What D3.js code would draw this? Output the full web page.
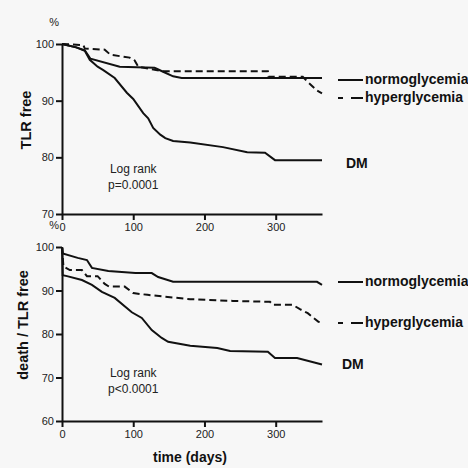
<!DOCTYPE html>
<html>
<head>
<meta charset="utf-8">
<script src="https://cdn.jsdelivr.net/npm/d3@7"></script>
<style>
  body { margin: 0; background: #f7f7f7; }
  svg { display: block; font-family: "Liberation Sans", Arial, sans-serif; }
</style>
</head>
<body>
<div id="chart"></div>
<script>
// Top panel: TLR free (days, %)
const tlrNormoDays = [0, 20, 32, 40, 81, 105, 130, 142, 156, 168, 365];
const tlrNormoPct  = [100, 99.4, 98.9, 97.4, 96.0, 95.9, 95.8, 95.1, 94.3, 94.0, 94.0];
const tlrHyperDays = [0, 30, 32, 60, 68, 95, 102, 107, 140, 289, 290, 338, 345, 358, 365];
const tlrHyperPct  = [100, 99.8, 99.2, 99.0, 98.1, 97.6, 97.1, 96.0, 95.2, 95.2, 94.2, 94.2, 93.3, 91.8, 91.3];
const tlrDmDays = [0, 20, 32, 39, 50, 58, 74, 91, 100, 114, 121, 128, 138, 145, 156, 180, 226, 260, 285, 299, 365];
const tlrDmPct  = [100, 99.4, 98.8, 97.2, 96.0, 95.4, 94.0, 91.4, 90.3, 87.8, 86.9, 85.2, 84.0, 83.4, 82.9, 82.6, 81.8, 80.9, 80.8, 79.5, 79.5];

// Bottom panel: death / TLR free (days, %)
const dthNormoDays = [0, 1, 22, 35, 42, 65, 103, 126, 135, 156, 358, 365];
const dthNormoPct  = [100, 98.5, 97.5, 97.0, 95.2, 94.5, 94.0, 94.0, 93.1, 92.0, 92.0, 91.3];
const dthHyperDays = [0, 2, 11, 28, 35, 50, 60, 66, 88, 100, 120, 180, 240, 292, 296, 324, 334, 345, 360, 365];
const dthHyperPct  = [100, 95.5, 94.7, 94.7, 93.3, 93.3, 91.5, 90.9, 90.9, 89.4, 89.0, 88.0, 87.6, 87.4, 86.7, 86.7, 85.7, 84.8, 82.8, 82.6];
const dthDmDays = [0, 1, 7, 28, 42, 56, 74, 98, 112, 126, 140, 149, 180, 218, 236, 289, 299, 330, 365];
const dthDmPct  = [100, 93.5, 93.3, 92.4, 91.3, 89.7, 88.3, 85.0, 83.7, 80.9, 79.1, 78.2, 77.3, 76.8, 76.1, 75.9, 74.5, 74.5, 73.0];

const xTicks = [0, 100, 200, 300];
const tlrYTicks = [70, 80, 90, 100];
const dthYTicks = [60, 70, 80, 90, 100];
const groupNames = ["normoglycemia", "hyperglycemia", "DM"];

const width = 468, height = 468;
const ink = "#111";

const svg = d3.select("#chart").append("svg")
    .attr("width", width)
    .attr("height", height);

svg.append("rect").attr("width", width).attr("height", height).attr("fill", "#f7f7f7");

const x = d3.scaleLinear().domain([0, 365]).range([62, 322]);

function zip(days, pct) {
    return days.map((d, i) => ({ t: d, v: pct[i] }));
}

function panel(cfg) {
    const y = d3.scaleLinear().domain(cfg.yDomain).range(cfg.yRange);
    const g = svg.append("g");

    // axes
    const xa = g.append("g")
        .attr("transform", `translate(0,${cfg.yRange[0]})`)
        .call(d3.axisBottom(x).tickValues(xTicks).tickSize(6).tickSizeOuter(0).tickPadding(3));
    const ya = g.append("g")
        .attr("transform", `translate(${x(0)},0)`)
        .call(d3.axisLeft(y).tickValues(cfg.yTicks).tickSize(6).tickSizeOuter(0).tickPadding(2));
    [xa, ya].forEach(a => {
        a.selectAll("path, line").attr("stroke", ink).attr("stroke-width", 2);
        a.selectAll("text").attr("fill", "#222").attr("font-size", 11).attr("font-family", "Liberation Sans, Arial");
    });

    // "%" unit, set just left of the axis so it sits beside the upper panel's "0"
    g.append("text")
        .attr("x", x(0) - 3).attr("y", cfg.yRange[1] - 18)
        .attr("text-anchor", "end")
        .attr("font-size", 11).attr("fill", "#222")
        .text("%");

    // y title
    g.append("text")
        .attr("transform", `translate(${cfg.titleX},${cfg.titleY}) rotate(-90)`)
        .attr("text-anchor", "middle")
        .attr("font-size", 14.5).attr("font-weight", "bold").attr("fill", ink)
        .text(cfg.title);

    const line = d3.line().x(d => x(d.t)).y(d => y(d.v));

    cfg.series.forEach(s => {
        g.append("path")
            .datum(s.data)
            .attr("d", line)
            .attr("fill", "none")
            .attr("stroke", ink)
            .attr("stroke-width", 2)
            .attr("stroke-dasharray", s.dashed ? "7,4" : null);
    });

    // log rank text
    const lr = g.append("text")
        .attr("x", x(100)).attr("text-anchor", "middle")
        .attr("font-size", 12).attr("fill", "#222");
    lr.append("tspan").attr("x", x(100)).attr("y", cfg.logY).text("Log rank");
    lr.append("tspan").attr("x", x(100)).attr("dy", 15.5).text(cfg.pText);

    // legend
    cfg.legend.forEach(l => {
        if (l.name !== "DM") {
            if (l.dashed) {
                g.append("line").attr("x1", 338).attr("x2", 343).attr("y1", l.y).attr("y2", l.y)
                    .attr("stroke", ink).attr("stroke-width", 2);
                g.append("line").attr("x1", 351).attr("x2", 363).attr("y1", l.y).attr("y2", l.y)
                    .attr("stroke", ink).attr("stroke-width", 2);
            } else {
                g.append("line").attr("x1", 338).attr("x2", 363).attr("y1", l.y).attr("y2", l.y)
                    .attr("stroke", ink).attr("stroke-width", 2);
            }
        }
        g.append("text")
            .attr("x", l.name === "DM" ? cfg.dmX : 365)
            .attr("y", l.y + (l.name === "DM" ? 5 : 4))
            .attr("font-size", 14).attr("font-weight", "bold").attr("fill", ink)
            .text(l.name);
    });
}

panel({
    yDomain: [70, 100], yRange: [214, 44], yTicks: tlrYTicks,
    title: "TLR free", titleX: 31, titleY: 120,
    series: [
        { data: zip(tlrNormoDays, tlrNormoPct) },
        { data: zip(tlrHyperDays, tlrHyperPct), dashed: true },
        { data: zip(tlrDmDays, tlrDmPct) }
    ],
    logY: 173, pText: "p=0.0001",
    legend: [
        { name: groupNames[0], y: 80 },
        { name: groupNames[1], y: 98, dashed: true },
        { name: groupNames[2], y: 163 }
    ],
    dmX: 346
});

panel({
    yDomain: [60, 100], yRange: [421, 247], yTicks: dthYTicks,
    title: "death / TLR free", titleX: 28, titleY: 325,
    series: [
        { data: zip(dthNormoDays, dthNormoPct) },
        { data: zip(dthHyperDays, dthHyperPct), dashed: true },
        { data: zip(dthDmDays, dthDmPct) }
    ],
    logY: 377, pText: "p<0.0001",
    legend: [
        { name: groupNames[0], y: 282 },
        { name: groupNames[1], y: 323, dashed: true },
        { name: groupNames[2], y: 364 }
    ],
    dmX: 342
});

// x title
svg.append("text")
    .attr("x", 190).attr("y", 462)
    .attr("text-anchor", "middle")
    .attr("font-size", 14).attr("font-weight", "bold").attr("fill", ink)
    .text("time (days)");
</script>
</body>
</html>
